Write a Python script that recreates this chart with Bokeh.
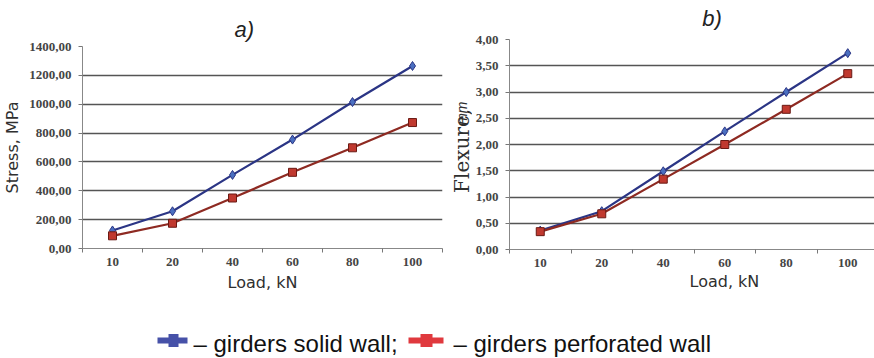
import math
from bokeh.plotting import figure
from bokeh.layouts import column, row
from bokeh.models import FixedTicker, Label, Range1d, Title
from bokeh.embed import file_html
from bokeh.resources import INLINE
from bokeh.core.properties import value

# ---- data ----
loads = ["10", "20", "40", "60", "80", "100"]
stress_solid = [125, 258, 510, 755, 1015, 1265]
stress_perf = [88, 175, 350, 528, 698, 873]
flex_solid = [0.36, 0.73, 1.49, 2.25, 3.00, 3.74]
flex_perf = [0.34, 0.68, 1.34, 2.00, 2.67, 3.35]
stress_ticks = [0, 200, 400, 600, 800, 1000, 1200, 1400]
flex_ticks = [0.0, 0.5, 1.0, 1.5, 2.0, 2.5, 3.0, 3.5, 4.0]
series_names = ["– girders solid wall;", "– girders perforated wall"]

BLUE_LINE = "#2b3585"
BLUE_MARK = "#4a6fc0"
RED_LINE = "#8e2a22"
RED_MARK = "#c0392f"
TICK_FONT = "Liberation Serif"
LABEL_COLOR = "#2f2f2f"

xs = list(range(len(loads)))


def fmt(v):
    return ("%.2f" % v).replace(".", ",")


def blank(width, height):
    f = figure(width=width, height=height, min_border=0,
               x_range=Range1d(0, width), y_range=Range1d(0, height),
               x_axis_location=None, y_axis_location=None,
               output_backend="svg", toolbar_location=None)
    f.outline_line_color = None
    f.grid.visible = False
    return f


def style(p, yticks):
    p.outline_line_color = None
    p.xgrid.visible = False
    p.ygrid.grid_line_color = "#555555"
    p.ygrid.grid_line_width = 1.3
    p.xaxis.ticker = FixedTicker(ticks=xs, minor_ticks=[i - 0.5 for i in range(len(loads) + 1)])
    p.xaxis.major_label_overrides = {i: l for i, l in enumerate(loads)}
    p.xaxis.major_tick_line_color = None
    p.xaxis.minor_tick_in = 0
    p.xaxis.minor_tick_out = 4
    p.xaxis.minor_tick_line_color = "#777777"
    p.xaxis.major_label_standoff = 3
    p.yaxis.ticker = FixedTicker(ticks=yticks)
    p.yaxis.major_label_overrides = {t: fmt(t) for t in yticks}
    p.yaxis.major_tick_in = 0
    p.yaxis.major_tick_out = 4
    p.yaxis.minor_tick_line_color = None
    p.yaxis.major_tick_line_color = "#777777"
    p.yaxis.major_label_standoff = 7
    p.axis.axis_line_color = "#888888"
    p.axis.major_label_text_font = TICK_FONT
    p.axis.major_label_text_font_style = "bold"
    p.axis.major_label_text_font_size = "13px"
    p.axis.major_label_text_color = "#444444"
    p.axis.axis_label_text_font = "DejaVu Sans"
    p.axis.axis_label_text_font_style = "normal"
    p.axis.axis_label_text_font_size = "16px"
    p.axis.axis_label_text_color = LABEL_COLOR


def draw_series(p, solid, perf):
    p.line(xs, solid, line_color=BLUE_LINE, line_width=2.2)
    p.scatter(xs, solid, marker="diamond", size=9, fill_color=BLUE_MARK, line_color=BLUE_LINE)
    p.line(xs, perf, line_color=RED_LINE, line_width=2.2)
    p.scatter(xs, perf, marker="square", size=8, fill_color=RED_MARK, line_color="#6a1a14")


# ---- chart a) ----
p1 = figure(frame_width=360, frame_height=202, min_border_left=80, min_border_right=6,
            min_border_top=46, min_border_bottom=52,
            x_range=Range1d(-0.5, 5.5), y_range=Range1d(0, 1400),
            output_backend="svg", toolbar_location=None)
style(p1, stress_ticks)
p1.xaxis.axis_label = "Load, kN"
p1.yaxis.axis_label = "Stress, MPa"
p1.xaxis.axis_label_standoff = 4
p1.yaxis.axis_label_standoff = 4
draw_series(p1, stress_solid, stress_perf)
p1.add_layout(Title(text="a)", align="left", offset=152, standoff=9,
                    text_font="Liberation Sans", text_font_style="italic",
                    text_font_size="22px", text_color="#222222"), "above")

# ---- narrow strip holding the y label of chart b) ----
ps = blank(24, 300)
ps.add_layout(Label(x=13, y=145, text="Flexure,", text_font="DejaVu Serif",
                    text_font_size="20px", text_color=LABEL_COLOR, angle=math.pi / 2,
                    text_align="center", text_baseline="middle"))
ps.add_layout(Label(x=13, y=201, text="mm", text_font="Liberation Sans",
                    text_font_style="italic", text_font_size="14px", text_color=LABEL_COLOR,
                    angle=math.pi / 2, text_align="center", text_baseline="middle"))

# ---- header strip holding the title of chart b) ----
hb = blank(404, 30)
hb.add_layout(Label(x=223, y=12, text="b)", text_font="Liberation Sans",
                    text_font_style="italic", text_font_size="22px", text_color="#222222",
                    text_align="center", text_baseline="middle"))

# ---- chart b) ----
p2 = figure(frame_width=369, frame_height=210, min_border_left=35, min_border_right=0,
            min_border_top=9, min_border_bottom=51,
            x_range=Range1d(-0.5, 5.5), y_range=Range1d(0, 4),
            output_backend="svg", toolbar_location=None)
style(p2, flex_ticks)
draw_series(p2, flex_solid, flex_perf)
p2.add_layout(Title(text="Load, kN", align="left", offset=180, standoff=1,
                    text_font="DejaVu Sans", text_font_style="normal",
                    text_font_size="16px", text_color=LABEL_COLOR), "below")

# ---- legend strip ----
pl = blank(874, 58)
leg_colors = ["#4651a8", "#e0393e"]
bar_x = [172, 425.5]
bar_w = [30, 35]
sq_x = [173, 426]
sq_w = [10, 12]
txt_x = [193, 453]
pl.rect(x=bar_x, y=[18, 18], width=bar_w, height=[6, 6], fill_color=leg_colors, line_color=None)
pl.rect(x=sq_x, y=[18, 18], width=sq_w, height=[13, 13], fill_color=leg_colors, line_color=None)
pl.text(x=txt_x, y=[15, 15], text=series_names, text_font=value("Liberation Sans"),
        text_font_size="24px", text_color="#111111", text_align="left", text_baseline="middle")

layout = column(row(p1, ps, column(hb, p2)), pl)
open("out.html", "w").write(file_html(layout, INLINE))
